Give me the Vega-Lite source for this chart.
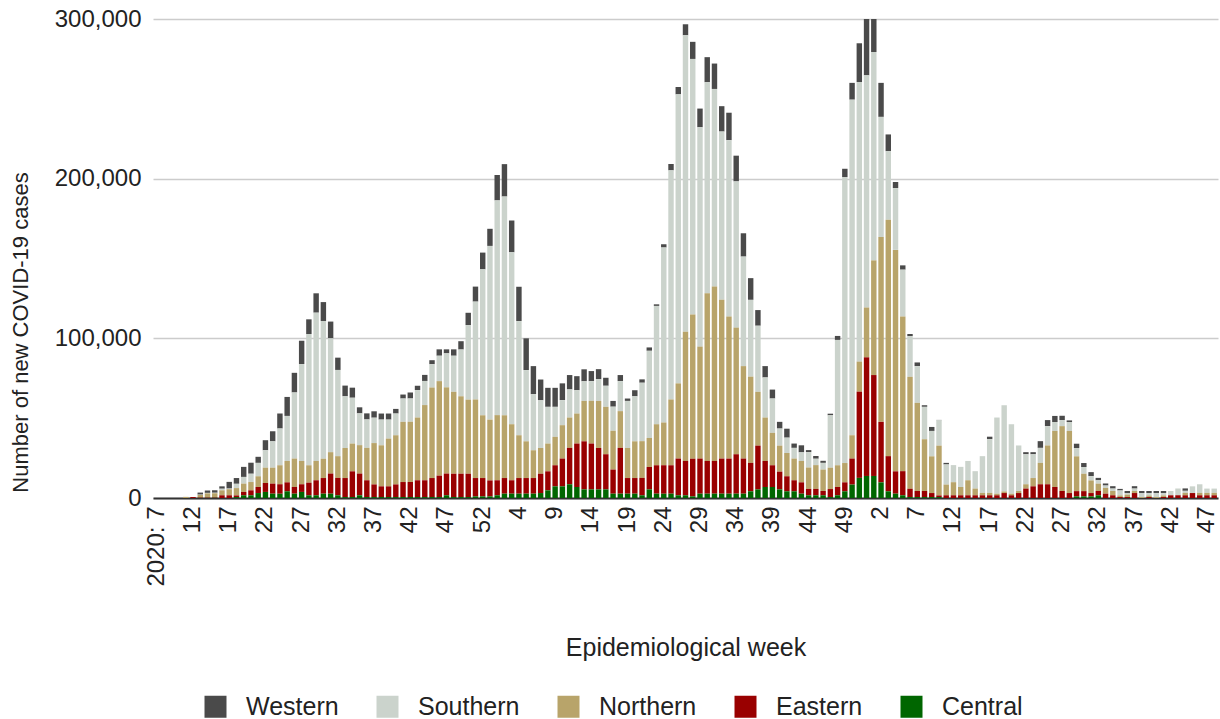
{
  "$schema": "https://vega.github.io/schema/vega-lite/v6.json",
  "autosize": "none",
  "width": 1065,
  "height": 479,
  "padding": {"left": 153, "top": 19, "right": 2, "bottom": 221},
  "background": "white",
  "config": {"view": {"stroke": null}, "font": "Liberation Sans"},
  "data": {"values": [
    {"k":"2020-07","Western":0,"Southern":0,"Northern":0,"Eastern":0,"Central":0},
    {"k":"2020-08","Western":0,"Southern":0,"Northern":0,"Eastern":0,"Central":0},
    {"k":"2020-09","Western":0,"Southern":0,"Northern":0,"Eastern":0,"Central":0},
    {"k":"2020-10","Western":0,"Southern":0,"Northern":0,"Eastern":0,"Central":0},
    {"k":"2020-11","Western":0,"Southern":0,"Northern":700,"Eastern":0,"Central":0},
    {"k":"2020-12","Western":0,"Southern":0,"Northern":0,"Eastern":600,"Central":0},
    {"k":"2020-13","Western":1300,"Southern":200,"Northern":1500,"Eastern":300,"Central":100},
    {"k":"2020-14","Western":1500,"Southern":300,"Northern":2500,"Eastern":300,"Central":100},
    {"k":"2020-15","Western":1500,"Southern":400,"Northern":2500,"Eastern":300,"Central":100},
    {"k":"2020-16","Western":1500,"Southern":1000,"Northern":3100,"Eastern":1700,"Central":0},
    {"k":"2020-17","Western":4200,"Southern":400,"Northern":3800,"Eastern":1700,"Central":0},
    {"k":"2020-18","Western":3600,"Southern":2700,"Northern":4600,"Eastern":1000,"Central":600},
    {"k":"2020-19","Western":6300,"Southern":4200,"Northern":5200,"Eastern":2100,"Central":1700},
    {"k":"2020-20","Western":6900,"Southern":5200,"Northern":5200,"Eastern":3100,"Central":1700},
    {"k":"2020-21","Western":3800,"Southern":8400,"Northern":6700,"Eastern":3800,"Central":3100},
    {"k":"2020-22","Western":6300,"Southern":10900,"Northern":9600,"Eastern":5600,"Central":3800},
    {"k":"2020-23","Western":6300,"Southern":16500,"Northern":10000,"Eastern":6300,"Central":2700},
    {"k":"2020-24","Western":9400,"Southern":23000,"Northern":11900,"Eastern":5900,"Central":2700},
    {"k":"2020-25","Western":11900,"Southern":28200,"Northern":13400,"Eastern":5600,"Central":4200},
    {"k":"2020-26","Western":12300,"Southern":41400,"Northern":17800,"Eastern":4200,"Central":2700},
    {"k":"2020-27","Western":14600,"Southern":60700,"Northern":14600,"Eastern":4800,"Central":3800},
    {"k":"2020-28","Western":9200,"Southern":82200,"Northern":10900,"Eastern":7900,"Central":1700},
    {"k":"2020-29","Western":12100,"Southern":92900,"Northern":12100,"Eastern":9400,"Central":1700},
    {"k":"2020-30","Western":11900,"Southern":86200,"Northern":12100,"Eastern":9800,"Central":2700},
    {"k":"2020-31","Western":10500,"Southern":71300,"Northern":13400,"Eastern":12600,"Central":2700},
    {"k":"2020-32","Western":7700,"Southern":54000,"Northern":13600,"Eastern":10900,"Central":1700},
    {"k":"2020-33","Western":6700,"Southern":32400,"Northern":18800,"Eastern":11900,"Central":600},
    {"k":"2020-34","Western":6300,"Southern":28700,"Northern":17400,"Eastern":16100,"Central":600},
    {"k":"2020-35","Western":3800,"Southern":19900,"Northern":17800,"Eastern":13600,"Central":1700},
    {"k":"2020-36","Western":3800,"Southern":17800,"Northern":20300,"Eastern":10500,"Central":600},
    {"k":"2020-37","Western":4000,"Southern":15900,"Northern":25900,"Eastern":7900,"Central":600},
    {"k":"2020-38","Western":3800,"Southern":16100,"Northern":25700,"Eastern":6700,"Central":600},
    {"k":"2020-39","Western":3800,"Southern":11900,"Northern":29900,"Eastern":6700,"Central":600},
    {"k":"2020-40","Western":2900,"Southern":13600,"Northern":30800,"Eastern":7900,"Central":600},
    {"k":"2020-41","Western":2500,"Southern":14600,"Northern":37700,"Eastern":9400,"Central":600},
    {"k":"2020-42","Western":3800,"Southern":14600,"Northern":37700,"Eastern":9400,"Central":600},
    {"k":"2020-43","Western":2700,"Southern":17200,"Northern":39300,"Eastern":10500,"Central":600},
    {"k":"2020-44","Western":3800,"Southern":15100,"Northern":47100,"Eastern":10500,"Central":600},
    {"k":"2020-45","Western":2500,"Southern":14600,"Northern":56700,"Eastern":11900,"Central":600},
    {"k":"2020-46","Western":4000,"Southern":15900,"Northern":59200,"Eastern":13400,"Central":600},
    {"k":"2020-47","Western":2500,"Southern":21300,"Northern":54000,"Eastern":13600,"Central":1700},
    {"k":"2020-48","Western":4000,"Southern":22600,"Northern":51300,"Eastern":14600,"Central":600},
    {"k":"2020-49","Western":5200,"Southern":29300,"Northern":48500,"Eastern":14600,"Central":600},
    {"k":"2020-50","Western":7700,"Southern":46700,"Northern":46400,"Eastern":14600,"Central":600},
    {"k":"2020-51","Western":9400,"Southern":61300,"Northern":49200,"Eastern":11500,"Central":1000},
    {"k":"2020-52","Western":10500,"Southern":91400,"Northern":39300,"Eastern":11500,"Central":1000},
    {"k":"2020-53","Western":10700,"Southern":108800,"Northern":38100,"Eastern":10000,"Central":1000},
    {"k":"2021-01","Western":15900,"Southern":134500,"Northern":40800,"Eastern":9400,"Central":1700},
    {"k":"2021-02","Western":20300,"Southern":137000,"Northern":39300,"Eastern":9800,"Central":2700},
    {"k":"2021-03","Western":19900,"Southern":107700,"Northern":35100,"Eastern":8400,"Central":2700},
    {"k":"2021-04","Western":21500,"Southern":71500,"Northern":26800,"Eastern":9800,"Central":2700},
    {"k":"2021-05","Western":19900,"Southern":44600,"Northern":23000,"Eastern":9800,"Central":2700},
    {"k":"2021-06","Western":17600,"Southern":35100,"Northern":17400,"Eastern":9800,"Central":2700},
    {"k":"2021-07","Western":13000,"Southern":29900,"Northern":16100,"Eastern":12100,"Central":3100},
    {"k":"2021-08","Western":11900,"Southern":23000,"Northern":17400,"Eastern":11900,"Central":4800},
    {"k":"2021-09","Western":11900,"Southern":18800,"Northern":17800,"Eastern":13200,"Central":7300},
    {"k":"2021-10","Western":10500,"Southern":15700,"Northern":20900,"Eastern":17400,"Central":7300},
    {"k":"2021-11","Western":9000,"Southern":17600,"Northern":19000,"Eastern":22800,"Central":8600},
    {"k":"2021-12","Western":8800,"Southern":14600,"Northern":18800,"Eastern":27200,"Central":6900},
    {"k":"2021-13","Western":7500,"Southern":12300,"Northern":25300,"Eastern":30100,"Central":5400},
    {"k":"2021-14","Western":6300,"Southern":12300,"Northern":26800,"Eastern":28700,"Central":5400},
    {"k":"2021-15","Western":6300,"Southern":13600,"Northern":29500,"Eastern":25900,"Central":5400},
    {"k":"2021-16","Western":5000,"Southern":13200,"Northern":29700,"Eastern":22000,"Central":5400},
    {"k":"2021-17","Western":3600,"Southern":15100,"Northern":24300,"Eastern":15100,"Central":2700},
    {"k":"2021-18","Western":3800,"Southern":18800,"Northern":23000,"Eastern":28700,"Central":2700},
    {"k":"2021-19","Western":1500,"Southern":29500,"Northern":18800,"Eastern":9800,"Central":2700},
    {"k":"2021-20","Western":3800,"Southern":28200,"Northern":23000,"Eastern":9800,"Central":2700},
    {"k":"2021-21","Western":2100,"Southern":36600,"Northern":23000,"Eastern":10900,"Central":1700},
    {"k":"2021-22","Western":2100,"Southern":54600,"Northern":18200,"Eastern":14000,"Central":5400},
    {"k":"2021-23","Western":1000,"Southern":74100,"Northern":25700,"Eastern":17800,"Central":2700},
    {"k":"2021-24","Western":2100,"Southern":109600,"Northern":26800,"Eastern":17800,"Central":2700},
    {"k":"2021-25","Western":4000,"Southern":143500,"Northern":41200,"Eastern":17800,"Central":2700},
    {"k":"2021-26","Western":4600,"Southern":181000,"Northern":47100,"Eastern":23000,"Central":1700},
    {"k":"2021-27","Western":6900,"Southern":185600,"Northern":81000,"Eastern":21500,"Central":1700},
    {"k":"2021-28","Western":10700,"Southern":160000,"Northern":90400,"Eastern":23600,"Central":1000},
    {"k":"2021-29","Western":11700,"Southern":137400,"Northern":70100,"Eastern":22000,"Central":2700},
    {"k":"2021-30","Western":15700,"Southern":132200,"Northern":105000,"Eastern":20500,"Central":2700},
    {"k":"2021-31","Western":15900,"Southern":123800,"Northern":109200,"Eastern":20500,"Central":2700},
    {"k":"2021-32","Western":15900,"Southern":105400,"Northern":99400,"Eastern":22000,"Central":2700},
    {"k":"2021-33","Western":17200,"Southern":110500,"Northern":88900,"Eastern":22000,"Central":2700},
    {"k":"2021-34","Western":16100,"Southern":91600,"Northern":79300,"Eastern":24700,"Central":2700},
    {"k":"2021-35","Western":14600,"Southern":68600,"Northern":57900,"Eastern":22000,"Central":2700},
    {"k":"2021-36","Western":13600,"Southern":48100,"Northern":54000,"Eastern":17800,"Central":4200},
    {"k":"2021-37","Western":9800,"Southern":41400,"Northern":33700,"Eastern":27400,"Central":5400},
    {"k":"2021-38","Western":7100,"Southern":25100,"Northern":27200,"Eastern":16300,"Central":6900},
    {"k":"2021-39","Western":5600,"Southern":21500,"Northern":20300,"Eastern":13600,"Central":6900},
    {"k":"2021-40","Western":4200,"Southern":10700,"Northern":16300,"Eastern":11100,"Central":5400},
    {"k":"2021-41","Western":5600,"Southern":9600,"Northern":14600,"Eastern":9400,"Central":4200},
    {"k":"2021-42","Western":2700,"Southern":6700,"Northern":13600,"Eastern":6900,"Central":4200},
    {"k":"2021-43","Western":4400,"Southern":5400,"Northern":13400,"Eastern":7100,"Central":2700},
    {"k":"2021-44","Western":1300,"Southern":9600,"Northern":13400,"Eastern":4000,"Central":1700},
    {"k":"2021-45","Western":1700,"Southern":4000,"Northern":14900,"Eastern":4000,"Central":1700},
    {"k":"2021-46","Western":1300,"Southern":4200,"Northern":13400,"Eastern":2700,"Central":1700},
    {"k":"2021-47","Western":1000,"Southern":32800,"Northern":13400,"Eastern":5000,"Central":600},
    {"k":"2021-48","Western":2500,"Southern":78500,"Northern":13600,"Eastern":5200,"Central":1700},
    {"k":"2021-49","Western":5200,"Southern":179100,"Northern":12100,"Eastern":5600,"Central":4200},
    {"k":"2021-50","Western":10500,"Southern":210200,"Northern":14600,"Eastern":16300,"Central":8400},
    {"k":"2021-51","Western":24300,"Southern":175100,"Northern":18800,"Eastern":54000,"Central":12600},
    {"k":"2021-52","Western":45000,"Southern":145400,"Northern":31200,"Eastern":74300,"Central":13800},
    {"k":"2022-01","Western":30000,"Southern":130500,"Northern":71800,"Eastern":63200,"Central":13800},
    {"k":"2022-02","Western":21300,"Southern":75300,"Northern":115700,"Eastern":37900,"Central":9800},
    {"k":"2022-03","Western":10500,"Southern":42900,"Northern":148100,"Eastern":22000,"Central":4200},
    {"k":"2022-04","Western":3800,"Southern":38700,"Northern":138700,"Eastern":14000,"Central":2700},
    {"k":"2022-05","Western":2700,"Southern":29300,"Northern":96900,"Eastern":15100,"Central":1700},
    {"k":"2022-06","Western":1300,"Southern":25500,"Northern":70100,"Eastern":5200,"Central":600},
    {"k":"2022-07","Western":2300,"Southern":23000,"Northern":55200,"Eastern":3800,"Central":600},
    {"k":"2022-08","Western":1000,"Southern":20300,"Northern":32400,"Eastern":3800,"Central":600},
    {"k":"2022-09","Western":2500,"Southern":15900,"Northern":23000,"Eastern":2500,"Central":600},
    {"k":"2022-10","Western":200,"Southern":15900,"Northern":31200,"Eastern":1000,"Central":600},
    {"k":"2022-11","Western":1000,"Southern":12600,"Northern":6700,"Eastern":1700,"Central":0},
    {"k":"2022-12","Western":0,"Southern":10700,"Northern":8200,"Eastern":1700,"Central":0},
    {"k":"2022-13","Western":0,"Southern":12600,"Northern":5200,"Eastern":1700,"Central":0},
    {"k":"2022-14","Western":0,"Southern":12100,"Northern":9400,"Eastern":1700,"Central":0},
    {"k":"2022-15","Western":0,"Southern":10900,"Northern":4200,"Eastern":1700,"Central":0},
    {"k":"2022-16","Western":0,"Southern":23000,"Northern":1500,"Eastern":1700,"Central":0},
    {"k":"2022-17","Western":1500,"Southern":33700,"Northern":1500,"Eastern":1700,"Central":0},
    {"k":"2022-18","Western":0,"Southern":47700,"Northern":1000,"Eastern":1700,"Central":0},
    {"k":"2022-19","Western":0,"Southern":54000,"Northern":1000,"Eastern":3100,"Central":0},
    {"k":"2022-20","Western":0,"Southern":43500,"Northern":1000,"Eastern":1700,"Central":0},
    {"k":"2022-21","Western":0,"Southern":28500,"Northern":1300,"Eastern":3100,"Central":0},
    {"k":"2022-22","Western":1300,"Southern":18800,"Northern":2700,"Eastern":5900,"Central":0},
    {"k":"2022-23","Western":1300,"Southern":14900,"Northern":5200,"Eastern":7300,"Central":0},
    {"k":"2022-24","Western":4200,"Southern":9400,"Northern":13400,"Eastern":8600,"Central":0},
    {"k":"2022-25","Western":3800,"Southern":12100,"Northern":24300,"Eastern":8600,"Central":0},
    {"k":"2022-26","Western":3800,"Southern":5600,"Northern":35100,"Eastern":6900,"Central":0},
    {"k":"2022-27","Western":2700,"Southern":3800,"Northern":40600,"Eastern":4400,"Central":0},
    {"k":"2022-28","Western":1000,"Southern":5600,"Northern":38900,"Eastern":3100,"Central":0},
    {"k":"2022-29","Western":2700,"Southern":5200,"Northern":21800,"Eastern":3300,"Central":1000},
    {"k":"2022-30","Western":2500,"Southern":4200,"Northern":10900,"Eastern":3300,"Central":1000},
    {"k":"2022-31","Western":2500,"Southern":2700,"Northern":7900,"Eastern":2100,"Central":1000},
    {"k":"2022-32","Western":1500,"Southern":2100,"Northern":4600,"Eastern":2700,"Central":1700},
    {"k":"2022-33","Western":1300,"Southern":1500,"Northern":3600,"Eastern":2700,"Central":0},
    {"k":"2022-34","Western":1500,"Southern":1500,"Northern":2700,"Eastern":1700,"Central":0},
    {"k":"2022-35","Western":1000,"Southern":3100,"Northern":1000,"Eastern":600,"Central":0},
    {"k":"2022-36","Western":1300,"Southern":1000,"Northern":1500,"Eastern":600,"Central":0},
    {"k":"2022-37","Western":1500,"Southern":1500,"Northern":1300,"Eastern":3100,"Central":0},
    {"k":"2022-38","Western":1300,"Southern":2500,"Northern":600,"Eastern":0,"Central":0},
    {"k":"2022-39","Western":1300,"Southern":1500,"Northern":1000,"Eastern":600,"Central":0},
    {"k":"2022-40","Western":1300,"Southern":2500,"Northern":600,"Eastern":0,"Central":0},
    {"k":"2022-41","Western":1300,"Southern":1500,"Northern":1000,"Eastern":600,"Central":0},
    {"k":"2022-42","Western":0,"Southern":2700,"Northern":0,"Eastern":1700,"Central":0},
    {"k":"2022-43","Western":0,"Southern":4200,"Northern":0,"Eastern":1700,"Central":0},
    {"k":"2022-44","Western":1500,"Southern":1300,"Northern":1500,"Eastern":1700,"Central":0},
    {"k":"2022-45","Western":0,"Southern":4200,"Northern":0,"Eastern":3100,"Central":0},
    {"k":"2022-46","Western":0,"Southern":5400,"Northern":1500,"Eastern":1700,"Central":0},
    {"k":"2022-47","Western":0,"Southern":2700,"Northern":1500,"Eastern":1700,"Central":0},
    {"k":"2022-48","Western":0,"Southern":2700,"Northern":1500,"Eastern":1700,"Central":0}
  ]},
  "transform": [
    {"fold": ["Western", "Southern", "Northern", "Eastern", "Central"], "as": ["region", "cases"]}
  ],
  "mark": {"type": "bar", "clip": true},
  "encoding": {
    "x": {
      "field": "k",
      "type": "ordinal",
      "scale": {"paddingInner": 0.25, "paddingOuter": 0.15},
      "title": "Epidemiological week",
      "axis": {
        "values": ["2020-07","2020-12","2020-17","2020-22","2020-27","2020-32","2020-37","2020-42","2020-47","2020-52","2021-04","2021-09","2021-14","2021-19","2021-24","2021-29","2021-34","2021-39","2021-44","2021-49","2022-02","2022-07","2022-12","2022-17","2022-22","2022-27","2022-32","2022-37","2022-42","2022-47"],
        "labelExpr": "datum.value == '2020-07' ? '2020: 7' : '' + toNumber(substring(datum.value, 5))",
        "labelAngle": -90,
        "labelFontSize": 24,
        "labelColor": "#222222",
        "labelPadding": 8,
        "ticks": false,
        "domain": true,
        "domainColor": "#333333",
        "domainWidth": 2,
        "grid": false,
        "titleFontSize": 25,
        "titleFontWeight": "normal",
        "titleColor": "#222222",
        "titleY": 137,
        "titleBaseline": "top"
      }
    },
    "y": {
      "field": "cases",
      "type": "quantitative",
      "stack": "zero",
      "scale": {"domain": [0, 300000], "nice": false},
      "title": "Number of new COVID-19 cases",
      "axis": {
        "values": [0, 100000, 200000, 300000],
        "format": ",.0f",
        "labelFontSize": 24,
        "labelColor": "#222222",
        "labelPadding": 12,
        "ticks": false,
        "domain": false,
        "grid": true,
        "gridColor": "#cccccc",
        "gridWidth": 1.5,
        "titleFontSize": 22,
        "titleFontWeight": "normal",
        "titleColor": "#222222",
        "titleX": -133,
        "titleY": 313,
        "titleBaseline": "middle"
      }
    },
    "color": {
      "field": "region",
      "type": "nominal",
      "scale": {
        "domain": ["Western", "Southern", "Northern", "Eastern", "Central"],
        "range": ["#4a4a4a", "#cbd3cc", "#b8a46a", "#990000", "#006600"]
      },
      "legend": {
        "title": null,
        "orient": "none",
        "legendX": 50,
        "legendY": 675,
        "direction": "horizontal",
        "symbolType": "square",
        "symbolSize": 484,
        "symbolStrokeWidth": 0,
        "labelFontSize": 25,
        "labelColor": "#222222",
        "labelOffset": 18,
        "columnPadding": 36
      }
    },
    "order": {"field": "region", "sort": "ascending"}
  }
}
